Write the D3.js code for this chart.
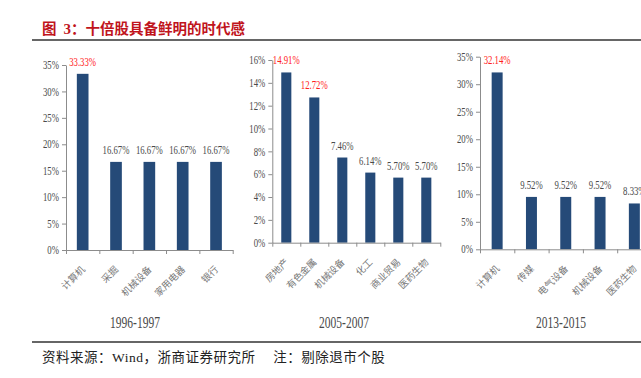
<!DOCTYPE html>
<html>
<head>
<meta charset="utf-8">
<script src="https://cdn.jsdelivr.net/npm/d3@7"></script>
<style>
  html, body { margin: 0; padding: 0; background: #fff; }
  svg { display: block; }
</style>
</head>
<body>
<svg id="chart" width="641" height="378"></svg>
<script>
// ---------------- data ----------------
const titleText = "十倍股具备鲜明的时代感";
const footerText = "资料来源：Wind，浙商证券研究所　 注：剔除退市个股";

const periods = ["1996-1997", "2005-2007", "2013-2015"];

const cats1 = ["计算机", "采掘", "机械设备", "家用电器", "银行"];
const vals1 = [33.33, 16.67, 16.67, 16.67, 16.67];
const yTicks1 = [0, 5, 10, 15, 20, 25, 30, 35];
const red1 = [0];

const cats2 = ["房地产", "有色金属", "机械设备", "化工", "商业贸易", "医药生物"];
const vals2 = [14.91, 12.72, 7.46, 6.14, 5.70, 5.70];
const yTicks2 = [0, 2, 4, 6, 8, 10, 12, 14, 16];
const red2 = [0, 1];

const cats3 = ["计算机", "传媒", "电气设备", "机械设备", "医药生物"];
const vals3 = [32.14, 9.52, 9.52, 9.52, 8.33];
const yTicks3 = [0, 5, 10, 15, 20, 25, 30, 35];
const red3 = [0];

// ---------------- layout ----------------
const panels = [
  { cats: cats1, vals: vals1, ticks: yTicks1, red: red1, period: periods[0],
    x0: 66, x1: 232.7, yTop: 65, yBot: 250, pad: 0.65, periodX: 135 },
  { cats: cats2, vals: vals2, ticks: yTicks2, red: red2, period: periods[1],
    x0: 272.3, x1: 440.3, yTop: 60, yBot: 242.7, pad: 0.64, periodX: 344 },
  { cats: cats3, vals: vals3, ticks: yTicks3, red: red3, period: periods[2],
    x0: 480, x1: 651.5, yTop: 56.7, yBot: 249.3, pad: 0.68, periodX: 561 }
];

const BAR = "#254a78";
const AXIS = "#8c8c8c";
const TXT = "#4a4a4a";
const RED = "#ff2020";
const SERIF = "'Liberation Serif', 'Times New Roman', serif";
const CJK = "'Noto Sans CJK SC', sans-serif";
const SX = 0.76; // condensed numerals

const svg = d3.select("#chart");
svg.append("rect").attr("width", 641).attr("height", 378).attr("fill", "#fff");

// ---------------- title ----------------
const title = svg.append("text")
  .attr("x", 42).attr("y", 33.5)
  .attr("fill", "#c0141c")
  .attr("font-weight", "bold")
  .attr("font-size", 14.5)
  .attr("font-family", CJK);
title.append("tspan").text("图");
title.append("tspan").attr("dx", 7).attr("font-family", SERIF).attr("font-size", 15).text("3");
title.append("tspan").text("：" + titleText);

svg.append("line").attr("x1", 32).attr("x2", 641).attr("y1", 40).attr("y2", 40)
  .attr("stroke", "#333").attr("stroke-width", 1.5);
svg.append("line").attr("x1", 32).attr("x2", 641).attr("y1", 342).attr("y2", 342)
  .attr("stroke", "#333").attr("stroke-width", 1.5);

svg.append("text")
  .attr("x", 42).attr("y", 362)
  .attr("fill", "#222")
  .attr("font-size", 13.5)
  .attr("letter-spacing", 0.5)
  .attr("font-family", SERIF + ", " + CJK)
  .text(footerText);

// ---------------- panels ----------------
panels.forEach(p => {
  const g = svg.append("g");
  const n = p.cats.length;
  const max = p.ticks[p.ticks.length - 1];

  const x = d3.scaleBand().domain(p.cats.map((c, i) => i))
    .range([p.x0, p.x1]).paddingInner(p.pad).paddingOuter(p.pad / 2);
  const xi = d3.scaleLinear().domain([0, n]).range([p.x0, p.x1]);
  const y = d3.scaleLinear().domain([0, max]).range([p.yBot, p.yTop]);

  // bars
  g.selectAll("rect.bar").data(p.vals).join("rect")
    .attr("class", "bar")
    .attr("x", (d, i) => x(i))
    .attr("width", x.bandwidth())
    .attr("y", d => y(d))
    .attr("height", d => y(0) - y(d))
    .attr("fill", BAR);

  // y axis
  const ya = g.append("g").attr("transform", `translate(${p.x0},0)`)
    .call(d3.axisLeft(y).tickValues(p.ticks).tickFormat(d => d + "%")
      .tickSize(4).tickSizeOuter(0));
  ya.select(".domain").attr("stroke", AXIS);
  ya.selectAll(".tick line").attr("stroke", AXIS);
  ya.selectAll(".tick text")
    .attr("x", null)
    .attr("transform", `translate(-7,0) scale(${SX},1)`)
    .attr("fill", TXT)
    .attr("font-size", 11.5)
    .attr("font-family", SERIF);

  // x axis (ticks between categories)
  const xa = g.append("g").attr("transform", `translate(0,${p.yBot})`)
    .call(d3.axisBottom(xi).tickValues(d3.range(n + 1)).tickFormat("")
      .tickSize(4).tickSizeOuter(0));
  xa.select(".domain").attr("stroke", AXIS);
  xa.selectAll(".tick line").attr("stroke", AXIS);

  // value labels
  g.selectAll("text.val").data(p.vals).join("text")
    .attr("class", "val")
    .attr("transform", (d, i) =>
      `translate(${x(i) + x.bandwidth() / 2},${y(d) - 8}) scale(${SX},1)`)
    .attr("text-anchor", "middle")
    .attr("font-size", 11.5)
    .attr("font-family", SERIF)
    .attr("fill", (d, i) => p.red.includes(i) ? RED : TXT)
    .text(d => d.toFixed(2) + "%");

  // category labels
  g.selectAll("text.cat").data(p.cats).join("text")
    .attr("class", "cat")
    .attr("transform", (d, i) =>
      `translate(${x(i) + x.bandwidth() / 2 + 3},${p.yBot + 20}) rotate(-45)`)
    .attr("text-anchor", "end")
    .attr("font-size", 9.5)
    .attr("font-family", CJK)
    .attr("fill", "#777")
    .text(d => d);

  // period label
  g.append("text")
    .attr("transform", `translate(${p.periodX},328) scale(0.72,1)`)
    .attr("text-anchor", "middle")
    .attr("font-size", 16)
    .attr("font-family", SERIF)
    .attr("fill", TXT)
    .text(p.period);
});
</script>
</body>
</html>
